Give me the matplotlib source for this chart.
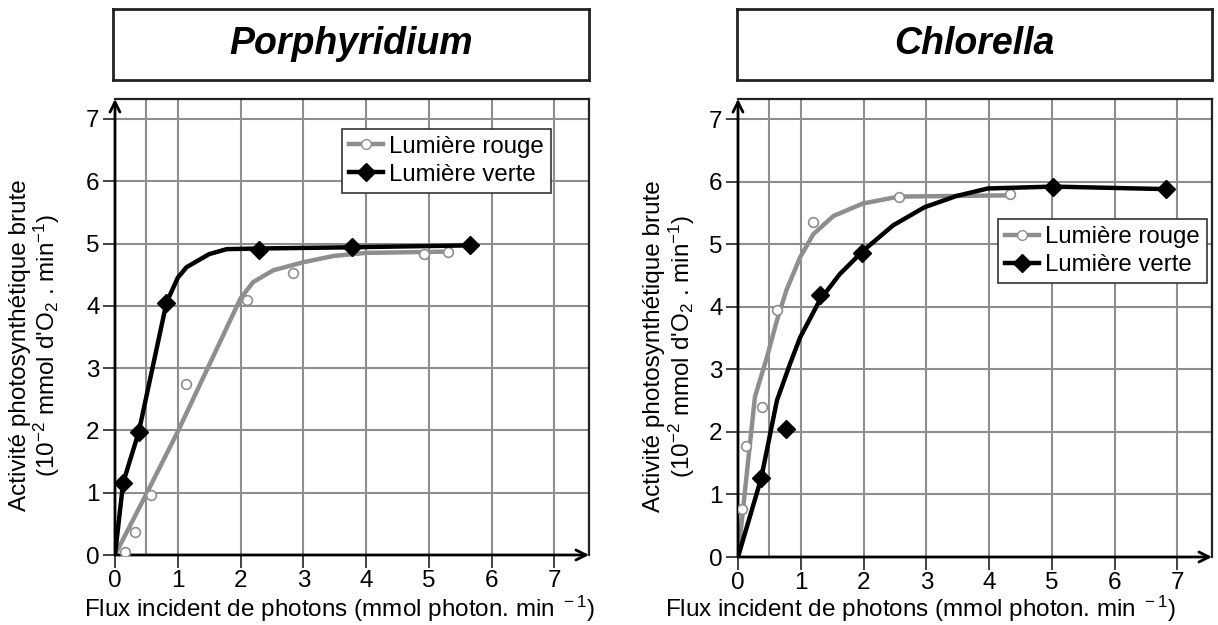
import matplotlib
matplotlib.use("Agg")
import matplotlib.pyplot as plt
from matplotlib.lines import Line2D

plt.rcParams['font.family'] = ['Liberation Sans', 'DejaVu Sans']
plt.rcParams['mathtext.fontset'] = 'custom'
plt.rcParams['mathtext.rm'] = 'Liberation Sans'

# Porphyridium - lumière rouge (points + courbe)
por_rouge_x = [0.16, 0.32, 0.58, 1.13, 2.10, 2.83, 4.92, 5.30]
por_rouge_y = [0.05, 0.37, 0.96, 2.75, 4.10, 4.52, 4.83, 4.87]
por_rouge_cx = [0, 0.5, 1.0, 1.5, 2.0, 2.2, 2.52, 3.0, 3.48, 4.0, 5.3]
por_rouge_cy = [0, 0.98, 1.98, 3.05, 4.12, 4.38, 4.57, 4.70, 4.80, 4.85, 4.87]
# Porphyridium - lumière verte
por_verte_x = [0.13, 0.38, 0.82, 2.30, 3.77, 5.65]
por_verte_y = [1.16, 1.98, 4.05, 4.89, 4.94, 4.97]
por_verte_cx = [0, 0.13, 0.38, 0.82, 1.0, 1.14, 1.5, 1.78, 2.3, 3.77, 5.65]
por_verte_cy = [0, 1.16, 1.98, 4.05, 4.45, 4.62, 4.83, 4.91, 4.92, 4.94, 4.97]

# Chlorella - lumière rouge
chl_rouge_x = [0.07, 0.13, 0.38, 0.62, 1.20, 2.56, 4.34]
chl_rouge_y = [0.76, 1.77, 2.40, 3.95, 5.36, 5.75, 5.80]
chl_rouge_cx = [0, 0.14, 0.27, 0.46, 0.62, 0.77, 0.99, 1.2, 1.52, 1.99, 2.56, 4.32]
chl_rouge_cy = [0, 1.33, 2.56, 3.19, 3.78, 4.26, 4.79, 5.16, 5.45, 5.65, 5.76, 5.78]
# Chlorella - lumière verte
chl_verte_x = [0.37, 0.76, 1.30, 1.98, 5.02, 6.82]
chl_verte_y = [1.26, 2.04, 4.18, 4.86, 5.92, 5.88]
chl_verte_cx = [0, 0.37, 0.62, 0.83, 0.99, 1.3, 1.62, 2.0, 2.47, 2.97, 3.48, 3.98, 5.02, 6.82]
chl_verte_cy = [0, 1.26, 2.5, 3.09, 3.51, 4.1, 4.52, 4.9, 5.3, 5.59, 5.77, 5.89, 5.92, 5.88]

titres = ['Porphyridium', 'Chlorella']
xlabel = 'Flux incident de photons (mmol photon. min$\\mathregular{^{\\ -1}}$)'
ylabel = ("Activité photosynthétique brute\n"
          "(10$\\mathregular{^{-2}}$ mmol d'O$\\mathregular{_2}$ . min$\\mathregular{^{-1}}$)")
legendes = ['Lumière rouge', 'Lumière verte']

GRIS = '#8e8e8e'

fig = plt.figure(figsize=(12.18, 6.25), dpi=100)

panneaux = [
    dict(rect=[0.0944, 0.112, 0.3892, 0.7296], box=[0.0928, 0.872, 0.3908, 0.1136],
         rouge=(por_rouge_x, por_rouge_y, por_rouge_cx, por_rouge_cy),
         verte=(por_verte_x, por_verte_y, por_verte_cx, por_verte_cy),
         leg=(0.479, 0.935), ylab=(-0.112, 0.46), xlab=(0.473, -0.085)),
    dict(rect=[0.6059, 0.1088, 0.3892, 0.7328], box=[0.6051, 0.872, 0.3900, 0.1136],
         rouge=(chl_rouge_x, chl_rouge_y, chl_rouge_cx, chl_rouge_cy),
         verte=(chl_verte_x, chl_verte_y, chl_verte_cx, chl_verte_cy),
         leg=(0.549, 0.738), ylab=(-0.087, 0.46), xlab=(0.386, -0.080)),
]

for p, titre in zip(panneaux, titres):
    ax = fig.add_axes(p['rect'])
    rx, ry, rcx, rcy = p['rouge']
    vx, vy, vcx, vcy = p['verte']

    ax.plot(rcx, rcy, color=GRIS, lw=3.2, solid_capstyle='round', zorder=3)
    ax.plot(rx, ry, 'o', ms=7, mfc='white', mec=GRIS, mew=1.2, zorder=4)
    ax.plot(vcx, vcy, color='black', lw=3.2, solid_capstyle='round', zorder=5)
    ax.plot(vx, vy, 'D', ms=9, color='black', zorder=6)

    ax.set_xlim(0, 7.55)
    ax.set_ylim(0, 7.32)
    ax.set_xticks(range(8))
    ax.set_xticks([0.5], minor=True)
    ax.set_yticks(range(8))
    ax.tick_params(which='major', labelsize=17.5, length=9, width=1.3, color='#333333', pad=2)
    ax.tick_params(which='minor', length=0)
    ax.grid(which='both', color=GRIS, lw=1.5)
    ax.set_axisbelow(True)

    for s in ['top', 'right']:
        ax.spines[s].set_color('#222222')
        ax.spines[s].set_linewidth(1.6)
    for s in ['left', 'bottom']:
        ax.spines[s].set_visible(False)
    ax.annotate('', xy=(0, 1), xytext=(0, 0), xycoords='axes fraction',
                arrowprops=dict(arrowstyle='->', lw=2, color='black', mutation_scale=18,
                                shrinkA=0, shrinkB=0))
    ax.annotate('', xy=(1, 0), xytext=(0, 0), xycoords='axes fraction',
                arrowprops=dict(arrowstyle='->', lw=2, color='black', mutation_scale=18,
                                shrinkA=0, shrinkB=0))

    ax.set_xlabel(xlabel, fontsize=17.5)
    ax.xaxis.set_label_coords(*p['xlab'])
    ax.set_ylabel(ylabel, fontsize=17.5, linespacing=1.05)
    ax.yaxis.set_label_coords(*p['ylab'])

    handles = [
        Line2D([], [], color=GRIS, lw=3.2, marker='o', ms=7, mfc='white', mec=GRIS),
        Line2D([], [], color='black', lw=3.2, marker='D', ms=9),
    ]
    leg = ax.legend(handles, legendes, loc='upper left', bbox_to_anchor=p['leg'],
                    fontsize=17.3, frameon=True, fancybox=False, framealpha=1,
                    edgecolor='#333333', handlelength=1.4, handletextpad=0.25,
                    borderpad=0.3, labelspacing=0.25, borderaxespad=0)
    leg.get_frame().set_linewidth(1.2)
    leg.set_zorder(10)

    bax = fig.add_axes(p['box'])
    bax.set_xticks([])
    bax.set_yticks([])
    for s in bax.spines.values():
        s.set_linewidth(2)
        s.set_color('#222222')
    bax.text(0.5, 0.5, titre, ha='center', va='center', fontsize=27,
             fontweight='bold', fontstyle='italic', transform=bax.transAxes)

fig.savefig('out.png', dpi=100)
